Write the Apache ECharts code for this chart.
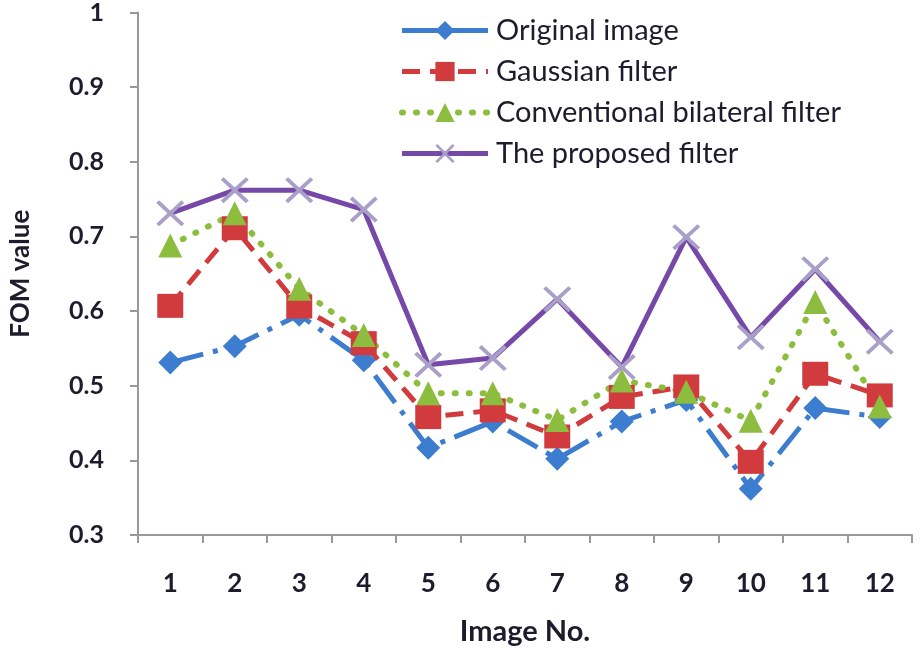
<!DOCTYPE html>
<html>
<head>
<meta charset="utf-8">
<script src="https://cdn.jsdelivr.net/npm/echarts@6/dist/echarts.min.js"></script>
<style>
  html, body { margin: 0; padding: 0; background: #fff; }
  #chart { width: 922px; height: 654px; }
</style>
</head>
<body>
<div id="chart"></div>
<script>
// image numbers on the x axis
const imageNo = ["1", "2", "3", "4", "5", "6", "7", "8", "9", "10", "11", "12"];
// FOM values
const originalImage = [0.531, 0.553, 0.595, 0.534, 0.417, 0.452, 0.402, 0.452, 0.481, 0.362, 0.470, 0.458];
const gaussianFilter = [0.607, 0.711, 0.606, 0.557, 0.458, 0.467, 0.432, 0.485, 0.499, 0.398, 0.516, 0.487];
const bilateralFilter = [0.688, 0.731, 0.630, 0.568, 0.490, 0.490, 0.454, 0.507, 0.492, 0.453, 0.612, 0.472];
const proposedFilter = [0.731, 0.762, 0.762, 0.736, 0.528, 0.537, 0.616, 0.525, 0.699, 0.565, 0.656, 0.559];

const font = "Lato";
const textColor = "#1c1c2c";
// filled X shape for the proposed filter marker
const crossPath = "path://M0,1L1,0L5,4L9,0L10,1L6,5L10,9L9,10L5,6L1,10L0,9L4,5Z";

const chart = echarts.init(document.getElementById("chart"));

const option = {
  animation: false,
  backgroundColor: "#fff",
  textStyle: { fontFamily: font },
  grid: { left: 130, right: 10, top: 12, bottom: 119 },
  legend: {
    orient: "vertical",
    left: 394,
    top: 11,
    itemWidth: 86,
    itemHeight: 24,
    itemGap: 12,
    lineStyle: { width: "inherit" },
    textStyle: {
      fontFamily: font,
      fontSize: 29,
      color: textColor,
      padding: [0, 0, 0, 3],
    },
    data: [
      { name: "Original image", lineStyle: { type: "solid" } },
      "Gaussian filter",
      "Conventional bilateral filter",
      "The proposed filter",
    ],
  },
  xAxis: {
    type: "category",
    data: imageNo,
    boundaryGap: true,
    name: "Image No.",
    nameLocation: "middle",
    nameGap: 82,
    nameTextStyle: { fontFamily: font, fontSize: 29, fontWeight: "bold", color: textColor },
    axisLine: { lineStyle: { color: "#999", width: 2 } },
    axisTick: { show: true, length: 8, lineStyle: { color: "#999", width: 2 } },
    axisLabel: { margin: 36, fontFamily: font, fontSize: 26, fontWeight: "bold", color: textColor },
    splitLine: { show: false },
  },
  yAxis: {
    type: "value",
    min: 0.3,
    max: 1,
    interval: 0.1,
    name: "FOM value",
    nameLocation: "middle",
    nameGap: 104,
    nameTextStyle: { fontFamily: font, fontSize: 26, fontWeight: "bold", color: textColor },
    axisLine: { show: true, lineStyle: { color: "#999", width: 2 } },
    axisTick: { show: true, length: 8, lineStyle: { color: "#999", width: 2 } },
    axisLabel: {
      margin: 34,
      fontFamily: font,
      fontSize: 25,
      fontWeight: "bold",
      color: textColor,
      formatter: (v) => String(Math.round(v * 10) / 10),
    },
    splitLine: { show: false },
  },
  series: [
    {
      name: "Original image",
      type: "line",
      data: originalImage,
      symbol: "diamond",
      symbolSize: [24, 24],
      itemStyle: { color: "#3c7dcf" },
      lineStyle: { color: "#3c7dcf", width: 5, type: [34, 10, 5, 10] },
    },
    {
      name: "Gaussian filter",
      type: "line",
      data: gaussianFilter,
      symbol: "rect",
      symbolSize: [26, 24],
      itemStyle: { color: "#d13b3d" },
      lineStyle: { color: "#d13b3d", width: 5, type: [18, 10] },
    },
    {
      name: "Conventional bilateral filter",
      type: "line",
      data: bilateralFilter,
      symbol: "triangle",
      symbolSize: [24, 24],
      itemStyle: { color: "#8dbd3e" },
      lineStyle: { color: "#8dbd3e", width: 6, type: [1, 13], cap: "round" },
    },
    {
      name: "The proposed filter",
      type: "line",
      data: proposedFilter,
      symbol: crossPath,
      symbolSize: [28, 26],
      itemStyle: { color: "#a99fc9" },
      lineStyle: { color: "#7648a8", width: 5 },
    },
  ],
};

chart.setOption(option);
</script>
</body>
</html>
